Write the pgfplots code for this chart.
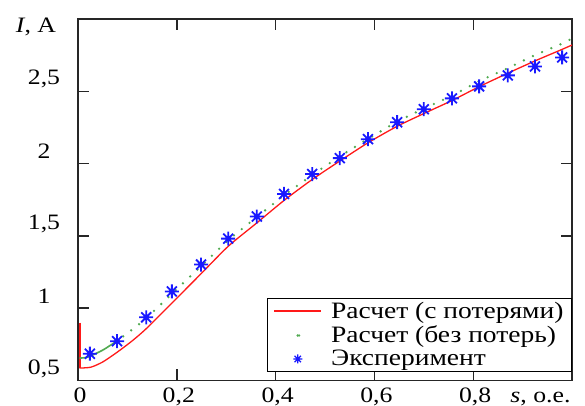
\documentclass[border=0pt]{standalone}
\usepackage{fontspec}
\setmainfont{Liberation Serif}[FakeStretch=1.17]
\usepackage{pgfplots}
\pgfplotsset{compat=1.18}

\definecolor{calcred}{RGB}{255,25,25}
\definecolor{calcgreen}{RGB}{80,170,80}
\definecolor{expblue}{RGB}{25,25,255}

% eight-ray asterisk with a filled centre
\pgfdeclareplotmark{ast8}{%
  \pgfpathmoveto{\pgfqpoint{-\pgfplotmarksize}{0pt}}%
  \pgfpathlineto{\pgfqpoint{\pgfplotmarksize}{0pt}}%
  \pgfpathmoveto{\pgfqpoint{0pt}{-\pgfplotmarksize}}%
  \pgfpathlineto{\pgfqpoint{0pt}{\pgfplotmarksize}}%
  \pgfpathmoveto{\pgfqpoint{-0.707\pgfplotmarksize}{-0.707\pgfplotmarksize}}%
  \pgfpathlineto{\pgfqpoint{0.707\pgfplotmarksize}{0.707\pgfplotmarksize}}%
  \pgfpathmoveto{\pgfqpoint{-0.707\pgfplotmarksize}{0.707\pgfplotmarksize}}%
  \pgfpathlineto{\pgfqpoint{0.707\pgfplotmarksize}{-0.707\pgfplotmarksize}}%
  \pgfusepathqstroke
  \pgfpathcircle{\pgfpointorigin}{0.4\pgfplotmarksize}%
  \pgfusepathqfill
}

\begin{document}
\fontsize{22}{25}\selectfont
\begin{tikzpicture}
\useasboundingbox (-78pt,-25.5pt) rectangle (507pt,380.5pt);
\begin{axis}[
    scale only axis,
    width=494pt, height=361.5pt,
    xmin=0, xmax=1,
    ymin=0.5, ymax=3,
    axis line style={line width=1.4pt, black!85},
    every tick/.style={line width=1.4pt, black!85},
    tick align=inside,
    major tick length=11pt,
    xtick={0,0.2,0.4,0.6,0.8},
    xticklabels={0,{0,2},{0,4},{0,6},{0,8}},
    ytick={0.5,1,1.5,2,2.5},
    yticklabels={{0,5},1,{1,5},2,{2,5}},
    xticklabel style={anchor=base, yshift=-21.5pt, xshift=2pt},
    yticklabel style={anchor=center, xshift=-34pt, yshift=12pt},
    xlabel={\textit{s}, о.е.},
    ylabel={\textit{I}, А},
    every axis x label/.style={at={(rel axis cs:1,0)}, anchor=base east, xshift=6pt, yshift=-21.5pt},
    every axis y label/.style={at={(rel axis cs:0,1)}, anchor=center, xshift=-42pt, yshift=-8pt},
    legend style={at={(1,0.0235)}, anchor=south east, line width=1.2pt,
        font=\fontsize{23.5}{22}\selectfont, row sep=0pt, column sep=7pt,
        inner xsep=6pt, inner ysep=1pt},
    legend cell align=left,
    legend image code/.code={\draw[#1, line width=1.7pt] (0pt,0.5pt) -- (47pt,0.5pt);},
]

% Расчет (с потерями)
\addplot[draw=calcred, line width=1.3pt, smooth, tension=0.4]
coordinates {
    (0.003,0.586) (0.026,0.592) (0.05,0.628) (0.079,0.695) (0.11,0.775) (0.138,0.858)
    (0.19,1.035) (0.249,1.238) (0.304,1.428) (0.362,1.59) (0.417,1.745)
    (0.474,1.89) (0.53,2.018) (0.587,2.144) (0.646,2.258) (0.70,2.346)
    (0.757,2.436) (0.812,2.532) (0.87,2.625) (0.925,2.71) (0.98,2.79) (1.0,2.82)
};
\addlegendentry{Расчет (с потерями)}

% Расчет (без потерь)
\addplot[draw=calcgreen, line width=2.6pt, line cap=round, dash pattern=on 0pt off 10pt,
    smooth, tension=0.4,
    legend image code/.code={\fill[calcgreen] (23.5pt,0pt) circle (1.3pt);}]
coordinates {
    (0.075,0.765) (0.105,0.84) (0.138,0.93)
    (0.19,1.10) (0.249,1.29) (0.304,1.47) (0.362,1.63) (0.417,1.78)
    (0.474,1.92) (0.53,2.05) (0.587,2.17) (0.646,2.29) (0.70,2.38)
    (0.757,2.47) (0.812,2.57) (0.87,2.66) (0.925,2.75) (0.98,2.83) (1.0,2.865)
};
\addlegendentry{Расчет (без потерь)}

% Эксперимент
\addplot[only marks, mark=ast8, mark size=7pt, color=expblue, line width=1.8pt,
    legend image code/.code={\draw[only marks, mark=ast8, mark size=4.5pt, color=expblue, line width=1.3pt]
        plot coordinates {(23.5pt,0pt)};}]
coordinates {
    (0.024,0.685) (0.079,0.772) (0.138,0.937) (0.190,1.116) (0.249,1.302)
    (0.304,1.481) (0.362,1.634) (0.417,1.79) (0.474,1.928) (0.530,2.038)
    (0.587,2.169) (0.646,2.286) (0.700,2.376) (0.757,2.451) (0.812,2.534)
    (0.870,2.610) (0.925,2.672) (0.980,2.734)
};
\addlegendentry{Эксперимент}

% start of both computed curves: the jump at s = 0 and the dense green start
\addplot[forget plot, draw=calcred, line width=1.2pt] coordinates {(0.004,0.90) (0.004,0.586)};
\addplot[forget plot, draw=calcgreen, line width=1.6pt, smooth, tension=0.4]
coordinates {(0.003,0.655) (0.02,0.662) (0.05,0.71) (0.075,0.765)};

\end{axis}
\end{tikzpicture}
\end{document}
